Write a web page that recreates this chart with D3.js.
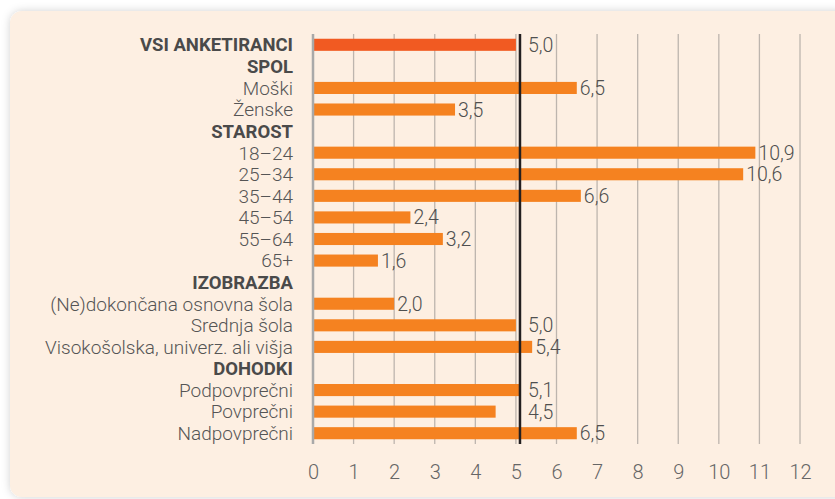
<!DOCTYPE html>
<html>
<head>
<meta charset="utf-8">
<script src="https://cdn.jsdelivr.net/npm/d3@7"></script>
<style>
  body { margin: 0; background: #f4f4f4; }
  svg { display: block; }
</style>
</head>
<body>
<svg id="chart" width="835" height="499"></svg>
<script>
// rows, top to bottom; null value = group header
var categories = [
  'VSI ANKETIRANCI', 'SPOL', 'Moški', 'Ženske',
  'STAROST', '18–24', '25–34', '35–44', '45–54', '55–64', '65+',
  'IZOBRAZBA', '(Ne)dokončana osnovna šola', 'Srednja šola', 'Visokošolska, univerz. ali višja',
  'DOHODKI', 'Podpovprečni', 'Povprečni', 'Nadpovprečni'
];
var values = [
  5.0, null, 6.5, 3.5,
  null, 10.9, 10.6, 6.6, 2.4, 3.2, 1.6,
  null, 2.0, 5.0, 5.4,
  null, 5.1, 4.5, 6.5
];
var headers = ['VSI ANKETIRANCI', 'SPOL', 'STAROST', 'IZOBRAZBA', 'DOHODKI'];
var average = 5.1;
var ticks = [0, 1, 2, 3, 4, 5, 6, 7, 8, 9, 10, 11, 12];

var rows = categories.map(function (c, i) {
  return { name: c, value: values[i], header: headers.indexOf(c) >= 0 };
});

var svg = d3.select('#chart');
var font = 'Roboto, sans-serif';

// card background with soft shadow
var defs = svg.append('defs');
var shadow = defs.append('filter')
  .attr('id', 'shadow')
  .attr('x', '-5%').attr('y', '-5%')
  .attr('width', '110%').attr('height', '110%');
shadow.append('feDropShadow')
  .attr('dx', 0).attr('dy', 0)
  .attr('stdDeviation', 4)
  .attr('flood-color', '#000')
  .attr('flood-opacity', 0.18);

svg.append('rect')
  .attr('x', 0).attr('y', 0)
  .attr('width', 835).attr('height', 499)
  .attr('fill', '#ffffff');

svg.append('rect')
  .attr('x', 10).attr('y', 11)
  .attr('width', 840).attr('height', 486)
  .attr('rx', 12).attr('ry', 12)
  .attr('fill', '#fdefe2')
  .attr('filter', 'url(#shadow)');

// scales
var x = d3.scaleLinear()
  .domain([0, 12])
  .range([313, 800]);

var y = d3.scaleBand()
  .domain(categories)
  .range([34, 444])
  .paddingInner(0.44)
  .paddingOuter(0.22);

var plotTop = 34, plotBottom = 444;

// grid lines
svg.append('g')
  .selectAll('line')
  .data(ticks.slice(1))
  .enter()
  .append('line')
  .attr('x1', function (d) { return x(d); })
  .attr('x2', function (d) { return x(d); })
  .attr('y1', plotTop)
  .attr('y2', plotBottom)
  .attr('stroke', '#bdb5ae')
  .attr('stroke-width', 1.3);

// tick labels
var axis = d3.axisBottom(x)
  .tickValues(ticks)
  .tickSize(0)
  .tickPadding(0)
  .tickFormat(d3.format('d'));

var axisG = svg.append('g')
  .attr('transform', 'translate(0,' + 479 + ')')
  .call(axis);
axisG.select('.domain').remove();
axisG.selectAll('text')
  .attr('y', 0)
  .attr('dy', 0)
  .attr('fill', '#666666')
  .style('font-family', font)
  .style('font-weight', 300)
  .style('font-size', '20px');

// bars
var data = rows.filter(function (d) { return d.value !== null; });

svg.append('g')
  .selectAll('rect')
  .data(data)
  .enter()
  .append('rect')
  .attr('x', x(0))
  .attr('y', function (d) { return y(d.name); })
  .attr('width', function (d) { return x(d.value) - x(0); })
  .attr('height', y.bandwidth())
  .attr('fill', function (d) { return d.header ? '#f15a22' : '#f58220'; });

// zero line
svg.append('line')
  .attr('x1', x(0)).attr('x2', x(0))
  .attr('y1', plotTop).attr('y2', plotBottom)
  .attr('stroke', '#a9a9a9')
  .attr('stroke-width', 2.5);

// average line
svg.append('line')
  .attr('x1', x(average)).attr('x2', x(average))
  .attr('y1', plotTop).attr('y2', plotBottom)
  .attr('stroke', '#231f20')
  .attr('stroke-width', 2.5);

// value labels, pushed past the average line when they would overlap it
var fmt = function (v) { return d3.format('.1f')(v).replace('.', ','); };

svg.append('g')
  .selectAll('text')
  .data(data)
  .enter()
  .append('text')
  .attr('x', function (d) {
    var end = x(d.value) + 3;
    if (end < x(average) + 8 && x(d.value) > x(average) - 30) end = x(average) + 8;
    return end;
  })
  .attr('y', function (d) { return y(d.name) + y.bandwidth() / 2; })
  .attr('dy', '0.36em')
  .attr('fill', '#4f4f4f')
  .style('font-family', font)
  .style('font-weight', 300)
  .style('font-size', '19.5px')
  .text(function (d) { return fmt(d.value); });

// category labels
svg.append('g')
  .selectAll('text')
  .data(rows)
  .enter()
  .append('text')
  .attr('x', 293)
  .attr('y', function (d) { return y(d.name) + y.bandwidth() / 2; })
  .attr('dy', '0.36em')
  .attr('text-anchor', 'end')
  .attr('fill', function (d) { return d.header ? '#4a4a4a' : '#555555'; })
  .style('font-family', font)
  .style('font-size', function (d) { return d.header ? '18.5px' : '19px'; })
  .style('font-weight', function (d) { return d.header ? 700 : 300; })
  .text(function (d) { return d.name; });
</script>
</body>
</html>
